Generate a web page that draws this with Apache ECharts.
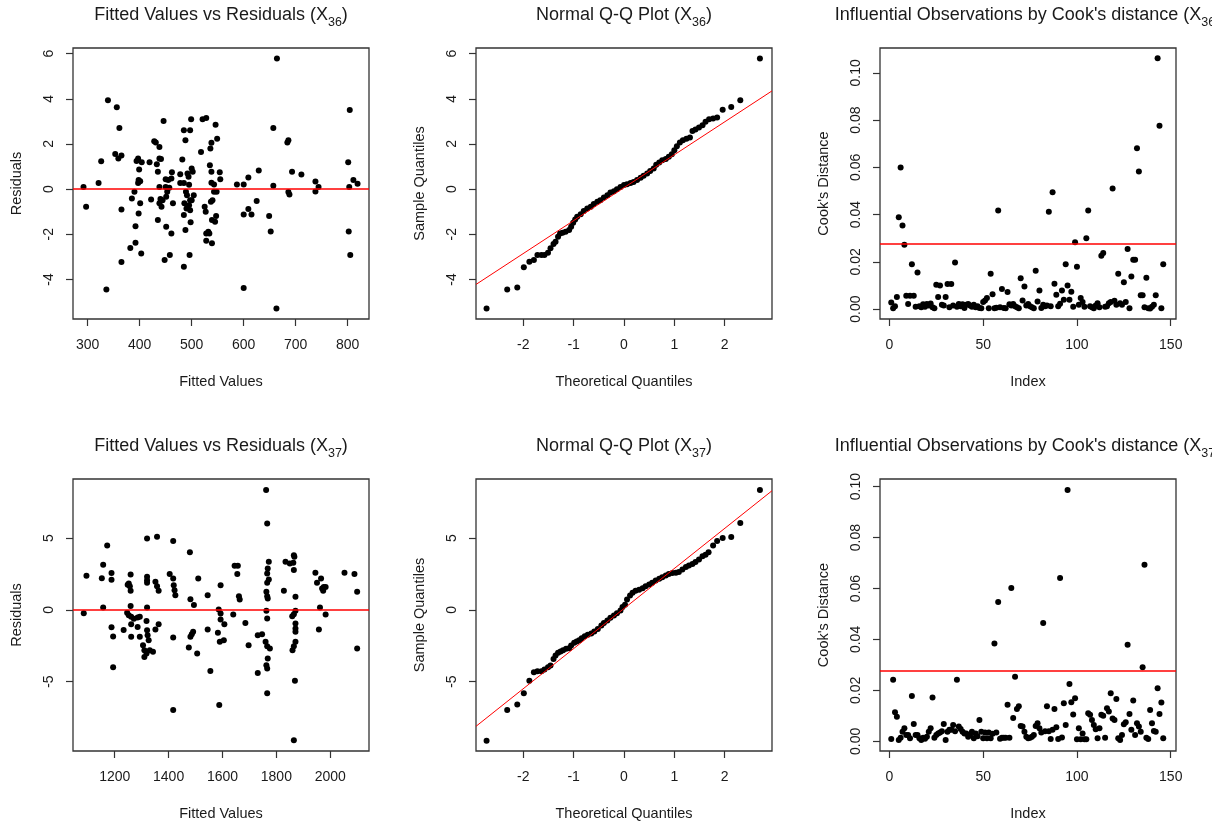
<!DOCTYPE html>
<html><head><meta charset="utf-8">
<script src="https://cdn.jsdelivr.net/npm/echarts@6/dist/echarts.min.js"></script>
<style>html,body{margin:0;padding:0;background:#fff}#c{width:1212px;height:824px}</style>
</head><body><div id="c"></div>
<script>
// ---------- DATA ----------
const fitted36 = [292,297,321,326,339,336,356,353,359,361,365,365,365,382,385,390,392,392,394,397,399,398,397,401,404,401,398,403,419,422,428,431,433,435,435,438,438,441,438,438,440,442,444,446,448,450,450,451,451,453,455,457,458,461,462,461,464,478,478,482,485,485,485,486,485,488,488,489,490,491,492,494,495,495,497,497,497,496,499,498,500,502,500,504,518,521,528,525,527,528,528,532,534,535,536,537,538,538,538,540,539,539,543,543,545,546,547,548,549,554,555,587,600,600,600,609,609,615,625,629,649,652,657,657,664,663,684,686,686,688,693,711,738,738,744,801,802,803,804,805,811,819];
const resid36 = [0.1,-0.78,0.27,1.24,3.94,-4.44,3.63,1.56,1.36,2.71,1.49,-0.9,-3.23,-2.61,-0.41,-0.12,-1.64,-2.37,1.25,1.36,0.87,0.4,0.27,0.35,1.19,-0.63,-1.08,-2.85,1.19,-0.46,2.12,2.06,1.1,0.77,-1.37,1.87,1.36,1.33,0.1,-0.63,-0.44,-0.78,-0.49,3.02,-3.14,0.44,0.1,-0.34,-1.67,-0.12,0.4,0.06,-2.92,0.47,0.75,-1.96,-0.63,0.66,0.27,1.31,0.27,2.61,-1.15,-0.63,-3.44,2.17,-1.81,-0.12,-0.86,-0.27,0.69,0.55,0.19,-0.71,2.61,-0.49,-0.93,-2.92,3.1,-1.47,0.91,0.77,-0.49,-0.27,1.64,3.1,3.15,-0.78,-1.0,-1.96,-2.29,-1.89,-1.96,1.06,1.8,-0.56,2.05,0.77,0.28,-0.49,-2.4,-1.37,0.21,-0.12,-1.44,2.85,-1.19,-0.12,2.23,0.75,0.44,0.21,0.21,-1.12,-4.38,0.52,-0.88,-1.12,-0.52,0.83,-1.19,-1.87,2.71,0.15,5.78,-5.29,2.06,2.17,-0.13,-0.24,0.77,0.65,0.34,-0.1,0.1,1.19,-1.87,0.1,3.51,-2.92,0.4,0.24];

const qqTheo36 = [-2.73,-2.32,-2.12,-1.99,-1.88,-1.79,-1.72,-1.64,-1.58,-1.51,-1.46,-1.40,-1.36,-1.31,-1.27,-1.22,-1.16,-1.09,-1.05,-1.01,-0.97,-0.93,-0.86,-0.80,-0.73,-0.66,-0.60,-0.53,-0.47,-0.40,-0.33,-0.27,-0.20,-0.14,-0.07,0.0,0.06,0.13,0.19,0.26,0.33,0.39,0.46,0.52,0.59,0.64,0.70,0.76,0.83,0.89,0.95,1.0,1.05,1.11,1.17,1.24,1.31,1.36,1.42,1.49,1.56,1.62,1.69,1.77,1.85,1.96,2.13,2.31,2.70];
const qqSample36 = [-5.29,-4.44,-4.36,-3.46,-3.21,-3.14,-2.92,-2.92,-2.92,-2.82,-2.62,-2.43,-2.33,-2.11,-1.96,-1.93,-1.89,-1.81,-1.67,-1.49,-1.34,-1.22,-1.11,-0.97,-0.86,-0.78,-0.66,-0.56,-0.49,-0.37,-0.27,-0.15,-0.09,-0.01,0.10,0.18,0.22,0.27,0.32,0.4,0.5,0.59,0.69,0.8,0.91,1.08,1.18,1.28,1.34,1.43,1.55,1.72,1.9,2.06,2.17,2.23,2.29,2.58,2.64,2.73,2.83,2.98,3.1,3.13,3.17,3.52,3.64,3.94,5.78];
const qqLine36 = [[-2.94,-4.22],[2.94,4.35]];

const cook36 = [0.0028,0.0004,0.0012,0.0051,0.0389,0.0599,0.0354,0.0272,0.0056,0.0021,0.0056,0.0190,0.0056,0.0010,0.0155,0.0012,0.0008,0.0020,0.0010,0.0022,0.0015,0.0024,0.0008,0.0003,0.0103,0.0051,0.0100,0.0018,0.0015,0.0051,0.0106,0.0008,0.0106,0.0015,0.0197,0.0010,0.0022,0.0012,0.0020,0.0005,0.0018,0.0022,0.0015,0.0010,0.0018,0.0008,0.0012,0.0005,0.0003,0.0030,0.0036,0.0047,0.0004,0.0149,0.0063,0.0004,0.0006,0.0417,0.0008,0.0085,0.0005,0.0004,0.0072,0.0020,0.0015,0.0022,0.0012,0.0008,0.0004,0.0131,0.0036,0.0096,0.0015,0.0022,0.0012,0.0008,0.0004,0.0162,0.0032,0.0079,0.0005,0.0018,0.0012,0.0015,0.0412,0.0012,0.0494,0.0107,0.0061,0.0012,0.0023,0.0079,0.0039,0.0190,0.0100,0.0039,0.0073,0.0010,0.0283,0.0179,0.0018,0.0047,0.0030,0.0010,0.0300,0.0417,0.0012,0.0008,0.0004,0.0015,0.0025,0.0008,0.0226,0.0237,0.0010,0.0012,0.0025,0.0030,0.0510,0.0035,0.0018,0.0150,0.0025,0.0018,0.0114,0.0030,0.0254,0.0004,0.0138,0.0209,0.0209,0.0681,0.0582,0.0058,0.0058,0.0008,0.0133,0.0004,0.0002,0.0010,0.0018,0.0058,0.1062,0.0776,0.0004,0.0190];
const cookCut36 = 0.0275;

const fitted37 = [1085,1095,1152,1157,1157,1172,1188,1188,1188,1194,1194,1233,1246,1248,1252,1252,1256,1259,1259,1259,1261,1261,1261,1271,1285,1293,1285,1293,1305,1310,1318,1310,1330,1342,1320,1322,1326,1318,1320,1320,1320,1320,1320,1357,1351,1357,1363,1363,1351,1404,1417,1419,1422,1425,1417,1417,1417,1475,1479,1481,1481,1486,1491,1494,1506,1510,1545,1545,1555,1583,1588,1593,1586,1593,1593,1590,1605,1607,1640,1645,1657,1655,1661,1664,1685,1697,1731,1747,1731,1762,1766,1772,1768,1766,1772,1766,1763,1766,1768,1763,1766,1760,1766,1776,1768,1763,1766,1766,1828,1834,1850,1865,1867,1863,1865,1871,1871,1865,1859,1871,1871,1871,1871,1865,1860,1869,1865,1945,1966,1951,1970,1976,1983,1974,1962,1983,1958,2053,2090,2100,2100];
const resid37 = [-0.23,2.37,2.21,3.14,0.16,4.49,2.56,2.09,-1.21,-1.86,-4.0,-1.4,-0.21,1.74,-0.37,1.84,1.65,2.47,1.33,0.26,-0.49,-1.0,-1.88,-0.63,-0.53,-0.49,-1.19,-1.88,-2.47,-2.81,-3.05,-3.28,-2.81,-2.93,-1.42,-1.77,-2.12,-0.77,0.16,2.3,2.07,1.88,4.98,5.09,1.95,1.65,1.33,-1.0,-1.37,2.49,2.19,1.72,1.37,1.02,4.79,-1.93,-6.98,-2.63,4.02,0.74,-1.88,-1.7,-1.53,0.33,-3.05,2.19,1.02,-1.37,-4.26,-1.6,-6.63,1.72,0.02,-0.26,-0.67,-2.23,-2.12,-1.0,-0.33,3.07,3.07,2.49,0.95,0.72,-0.91,-2.47,-1.77,-1.7,-4.4,8.35,6.02,3.35,2.88,2.53,2.12,1.88,1.26,0.95,0.79,-0.07,-0.6,-2.23,-2.53,-2.7,-3.4,-3.86,-4.09,-5.81,1.33,3.35,3.23,3.81,3.7,3.28,2.77,0.91,-0.07,-0.3,-0.44,-0.95,-1.3,-1.53,-2.23,-2.53,-2.81,-4.95,-9.09,2.58,2.19,1.88,1.49,1.6,1.6,1.33,0.16,-0.33,-1.37,2.58,2.49,1.26,-2.7];

const qqTheo37 = [-2.73,-2.32,-2.12,-1.99,-1.88,-1.79,-1.72,-1.64,-1.58,-1.51,-1.46,-1.40,-1.36,-1.31,-1.26,-1.21,-1.15,-1.09,-1.05,-0.99,-0.94,-0.89,-0.84,-0.78,-0.72,-0.65,-0.59,-0.52,-0.45,-0.40,-0.33,-0.27,-0.20,-0.14,-0.07,-0.03,0.02,0.06,0.12,0.17,0.23,0.30,0.37,0.43,0.50,0.56,0.63,0.70,0.76,0.83,0.89,0.96,1.03,1.09,1.16,1.23,1.29,1.36,1.42,1.49,1.56,1.62,1.68,1.77,1.85,1.96,2.13,2.31,2.70];
const qqSample37 = [-9.12,-6.98,-6.6,-5.81,-4.95,-4.35,-4.28,-4.28,-4.16,-4.0,-3.88,-3.42,-3.19,-3.0,-2.91,-2.81,-2.72,-2.67,-2.49,-2.3,-2.21,-2.12,-1.98,-1.84,-1.74,-1.65,-1.51,-1.33,-1.09,-0.91,-0.74,-0.56,-0.4,-0.23,-0.05,0.19,0.35,0.72,1.0,1.19,1.33,1.4,1.51,1.65,1.77,1.88,2.05,2.16,2.28,2.4,2.49,2.56,2.58,2.63,2.81,2.98,3.09,3.19,3.33,3.51,3.74,3.84,4.02,4.49,4.79,5.0,5.07,6.05,8.35];
const qqLine37 = [[-2.94,-8.12],[2.94,8.30]];

const cook37 = [0.0009,0.0242,0.0114,0.0096,0.0005,0.0014,0.0038,0.0051,0.0025,0.0025,0.0012,0.0178,0.0068,0.0025,0.0025,0.0012,0.0005,0.0014,0.0010,0.0018,0.0038,0.0051,0.0172,0.0014,0.0025,0.0031,0.0035,0.0040,0.0068,0.0005,0.0038,0.0045,0.0045,0.0064,0.0040,0.0242,0.0058,0.0048,0.0038,0.0031,0.0031,0.0018,0.0025,0.0038,0.0012,0.0031,0.0020,0.0084,0.0038,0.0012,0.0035,0.0012,0.0035,0.0012,0.0030,0.0384,0.0035,0.0547,0.0010,0.0014,0.0014,0.0014,0.0144,0.0014,0.0602,0.0092,0.0254,0.0127,0.0138,0.0060,0.0058,0.0038,0.0018,0.0012,0.0014,0.0018,0.0025,0.0060,0.0071,0.0051,0.0035,0.0465,0.0040,0.0138,0.0040,0.0009,0.0045,0.0127,0.0055,0.0009,0.0641,0.0015,0.0149,0.0064,0.0987,0.0225,0.0153,0.0105,0.0169,0.0008,0.0051,0.0008,0.0031,0.0008,0.0008,0.0110,0.0104,0.0084,0.0064,0.0047,0.0012,0.0051,0.0104,0.0100,0.0014,0.0130,0.0117,0.0189,0.0090,0.0084,0.0166,0.0012,0.0005,0.0025,0.0067,0.0075,0.0379,0.0107,0.0045,0.0160,0.0025,0.0071,0.0058,0.0038,0.0291,0.0693,0.0014,0.0009,0.0123,0.0071,0.0041,0.0038,0.0208,0.0107,0.0152,0.0012];
const cookCut37 = 0.0277;

const ticksFit36 = [300,400,500,600,700,800];
const ticksRes36 = [-4,-2,0,2,4,6];
const ticksFit37 = [1200,1400,1600,1800,2000];
const ticksRes37 = [-5,0,5];
const ticksTheo = [-2,-1,0,1,2];
const ticksIdx = [0,50,100,150];
const ticksCook = [0,0.02,0.04,0.06,0.08,0.10];

// ---------- CHART ----------
const FONT = '"Liberation Sans", Arial, sans-serif';
const TXT = '#1a1a1a';
const grids = [
  {left:73, top:48, width:296, height:271},
  {left:476, top:48, width:296, height:271},
  {left:880, top:48, width:296, height:271},
  {left:73, top:479, width:296, height:272},
  {left:476, top:479, width:296, height:272},
  {left:880, top:479, width:296, height:272}
].map(g => Object.assign({show:true, borderColor:'#333', borderWidth:1.3, backgroundColor:'transparent'}, g));

const plainFmt = v => String(v);
function xAx(gi, min, max, ticks, name, fmt) {
  return {type:'value', gridIndex:gi, min:min, max:max, name:name, nameLocation:'middle', nameGap:55,
    nameTextStyle:{fontFamily:FONT, fontSize:14.5, color:TXT},
    axisLine:{show:false, onZero:false}, splitLine:{show:false},
    axisTick:{show:true, inside:false, length:7, customValues:ticks, lineStyle:{color:'#333', width:1.2}},
    axisLabel:{customValues:ticks, margin:19, fontFamily:FONT, fontSize:14, color:TXT, formatter:fmt || plainFmt}};
}
function yAx(gi, min, max, ticks, name, fmt) {
  return {type:'value', gridIndex:gi, min:min, max:max, name:name, nameLocation:'middle', nameGap:49,
    nameTextStyle:{fontFamily:FONT, fontSize:14.5, color:TXT},
    axisLine:{show:false, onZero:false}, splitLine:{show:false},
    axisTick:{show:true, inside:false, length:7, customValues:ticks, lineStyle:{color:'#333', width:1.2}},
    axisLabel:{customValues:ticks, rotate:90, margin:17, fontFamily:FONT, fontSize:14, color:TXT, formatter:fmt || plainFmt}};
}
const cookFmt = v => v.toFixed(2);

function title(main, sub, cx, top) {
  return {text:'{a|' + main + '}{s|' + sub + '}{a|)}', left:cx, top:top, textAlign:'center', padding:0,
    textStyle:{fontWeight:'normal', rich:{
      a:{fontFamily:FONT, fontSize:18, color:TXT, lineHeight:22, fontWeight:'normal'},
      s:{fontFamily:FONT, fontSize:12.5, color:TXT, lineHeight:14, fontWeight:'normal', verticalAlign:'bottom', padding:[0,0,-3,0]}
    }}};
}

function scatter(gi, data) {
  return {type:'scatter', xAxisIndex:gi, yAxisIndex:gi, data:data, symbol:'circle', symbolSize:6,
    itemStyle:{color:'#000', opacity:1}, silent:true};
}
function hline(v) {
  return {symbol:'none', silent:true, precision:6, label:{show:false}, lineStyle:{color:'#ff0000', width:1.6, type:'solid'}, data:[{yAxis:v}]};
}
function qqline(gi, data) {
  return {type:'line', xAxisIndex:gi, yAxisIndex:gi, data:data, showSymbol:false, silent:true,
    lineStyle:{color:'#ff0000', width:1}};
}

const s1 = scatter(0, fitted36.map((x,i)=>[x, resid36[i]])); s1.markLine = hline(0);
const s3 = scatter(2, cook36.map((v,i)=>[i+1, v])); s3.markLine = hline(cookCut36);
const s4 = scatter(3, fitted37.map((x,i)=>[x, resid37[i]])); s4.markLine = hline(0);
const s6 = scatter(5, cook37.map((v,i)=>[i+1, v])); s6.markLine = hline(cookCut37);

const option = {
  animation:false,
  backgroundColor:'#fff',
  title:[
    title('Fitted Values vs Residuals (X','36',221,4),
    title('Normal Q-Q Plot (X','36',624,4),
    title("Influential Observations by Cook's distance (X",'36',1028,4),
    title('Fitted Values vs Residuals (X','37',221,435),
    title('Normal Q-Q Plot (X','37',624,435),
    title("Influential Observations by Cook's distance (X",'37',1028,435)
  ],
  grid:grids,
  xAxis:[
    xAx(0, 271.8, 841, ticksFit36, 'Fitted Values'),
    xAx(1, -2.94, 2.94, ticksTheo, 'Theoretical Quantiles'),
    xAx(2, -5, 152.8, ticksIdx, 'Index'),
    xAx(3, 1045, 2144, ticksFit37, 'Fitted Values'),
    xAx(4, -2.94, 2.94, ticksTheo, 'Theoretical Quantiles'),
    xAx(5, -5, 152.8, ticksIdx, 'Index')
  ],
  yAxis:[
    yAx(0, -5.75, 6.25, ticksRes36, 'Residuals'),
    yAx(1, -5.75, 6.25, ticksRes36, 'Sample Quantiles'),
    yAx(2, -0.0042, 0.1105, ticksCook, "Cook's Distance", cookFmt),
    yAx(3, -9.84, 9.12, ticksRes37, 'Residuals'),
    yAx(4, -9.84, 9.12, ticksRes37, 'Sample Quantiles'),
    yAx(5, -0.0038, 0.103, ticksCook, "Cook's Distance", cookFmt)
  ],
  series:[
    s1,
    qqline(1, qqLine36),
    scatter(1, qqTheo36.map((x,i)=>[x, qqSample36[i]])),
    s3,
    s4,
    qqline(4, qqLine37),
    scatter(4, qqTheo37.map((x,i)=>[x, qqSample37[i]])),
    s6
  ]
};
const chart = echarts.init(document.getElementById('c'), null, {renderer:'canvas'});
chart.setOption(option);
</script>
</body></html>
